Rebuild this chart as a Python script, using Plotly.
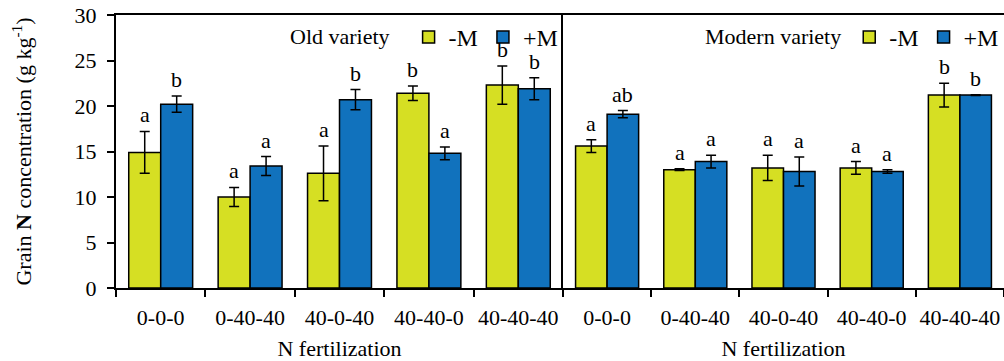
import plotly.graph_objects as go

categories = ["0-0-0", "0-40-40", "40-0-40", "40-40-0", "40-40-40"]

old_minus = [14.9, 10.0, 12.6, 21.4, 22.3]
old_minus_err = [2.3, 1.05, 3.0, 0.8, 2.1]
old_plus = [20.2, 13.4, 20.7, 14.8, 21.9]
old_plus_err = [0.9, 1.05, 1.1, 0.7, 1.2]
old_minus_letters = ["a", "a", "a", "b", "b"]
old_plus_letters = ["b", "a", "b", "a", "b"]

mod_minus = [15.6, 13.0, 13.2, 13.2, 21.2]
mod_minus_err = [0.7, 0.1, 1.4, 0.7, 1.3]
mod_plus = [19.1, 13.9, 12.8, 12.8, 21.2]
mod_plus_err = [0.4, 0.7, 1.6, 0.2, 0.05]
mod_minus_letters = ["a", "a", "a", "a", "b"]
mod_plus_letters = ["ab", "a", "a", "a", "b"]

y_ticks = [0, 5, 10, 15, 20, 25, 30]

YELLOW = "#D6DF23"
BLUE = "#1172BD"
FONT = "Liberation Serif, Times New Roman, Times, DejaVu Serif, serif"
FS = 22
BARGAP = 0.285

W, H = 1004, 361
L, R, T, B = 116, 0, 15, 73
split = 447 / (W - L - R)

fig = go.Figure()

def add_bars(vals, errs, name, color, xa, ya, legend, show):
    fig.add_trace(go.Bar(
        x=categories, y=vals, name=name, xaxis=xa, yaxis=ya,
        marker=dict(color=color, line=dict(color="black", width=1.5)),
        error_y=dict(type="data", array=errs, visible=True, color="black",
                     thickness=1.5, width=5),
        legend=legend, showlegend=show,
    ))

add_bars(old_minus, old_minus_err, "-M", YELLOW, "x", "y", "legend", True)
add_bars(old_plus, old_plus_err, "+M", BLUE, "x", "y", "legend", True)
add_bars(mod_minus, mod_minus_err, "-M", YELLOW, "x2", "y2", "legend2", True)
add_bars(mod_plus, mod_plus_err, "+M", BLUE, "x2", "y2", "legend2", True)

off = (1 - BARGAP) / 4
annotations = []
for xref, yref, sets in [
    ("x", "y", [(old_minus, old_minus_err, old_minus_letters, -off),
                (old_plus, old_plus_err, old_plus_letters, off)]),
    ("x2", "y2", [(mod_minus, mod_minus_err, mod_minus_letters, -off),
                  (mod_plus, mod_plus_err, mod_plus_letters, off)]),
]:
    for vals, errs, letters, dx in sets:
        for i, (v, e, t) in enumerate(zip(vals, errs, letters)):
            annotations.append(dict(
                x=i + dx, y=v + e, xref=xref, yref=yref, text=t,
                showarrow=False, yanchor="bottom", yshift=2,
                font=dict(family=FONT, size=FS, color="black"),
            ))

axis_common = dict(
    type="category", showline=True, linecolor="black", linewidth=2,
    ticks="outside", tickson="boundaries", ticklen=7, tickwidth=1.5,
    tickcolor="black", mirror=True, showgrid=False, tickangle=0,
    automargin=False,
    tickfont=dict(family=FONT, size=FS, color="black"),
    ticklabelstandoff=9,
    title=dict(text="N fertilization", font=dict(family=FONT, size=FS, color="black"),
               standoff=12),
    range=[-0.5, 4.5],
)

NB = "\u00a0"

fig.update_layout(
    width=W, height=H,
    margin=dict(l=L, r=R, t=T, b=B),
    paper_bgcolor="white", plot_bgcolor="white",
    barmode="group", bargap=BARGAP, bargroupgap=0,
    font=dict(family=FONT, size=FS, color="black"),
    xaxis=dict(domain=[0, split], anchor="y", **axis_common),
    xaxis2=dict(domain=[split, 1], anchor="y2", **axis_common),
    yaxis=dict(
        range=[0, 30], tickvals=y_ticks, showline=True, linecolor="black",
        linewidth=2, ticks="outside", ticklen=7, tickwidth=1.5, tickcolor="black",
        showgrid=False, zeroline=False, anchor="x", ticklabelstandoff=6,
        automargin=False,
        tickfont=dict(family=FONT, size=FS, color="black"),
        title=dict(text="Grain <b>N</b> concentration (g kg<sup>-1</sup>)",
                   font=dict(family=FONT, size=22, color="black"), standoff=37),
    ),
    yaxis2=dict(
        range=[0, 30], showline=True, linecolor="black", linewidth=2,
        ticks="", showticklabels=False, showgrid=False, zeroline=False,
        anchor="x2", automargin=False,
    ),
    legend=dict(
        orientation="h", x=split, xanchor="right", y=1, yanchor="top",
        bgcolor="rgba(0,0,0,0)", font=dict(family=FONT, size=24, color="black"),
        title=dict(text="Old variety" + NB * 2, side="left",
                   font=dict(family=FONT, size=FS, color="black")),
        itemwidth=30, tracegroupgap=0,
    ),
    legend2=dict(
        orientation="h", x=1, xanchor="right", y=1, yanchor="top",
        bgcolor="rgba(0,0,0,0)", font=dict(family=FONT, size=24, color="black"),
        title=dict(text="Modern variety", side="left",
                   font=dict(family=FONT, size=FS, color="black")),
        itemwidth=30, tracegroupgap=0,
    ),
    annotations=annotations,
)

fig.write_html("out.html")
